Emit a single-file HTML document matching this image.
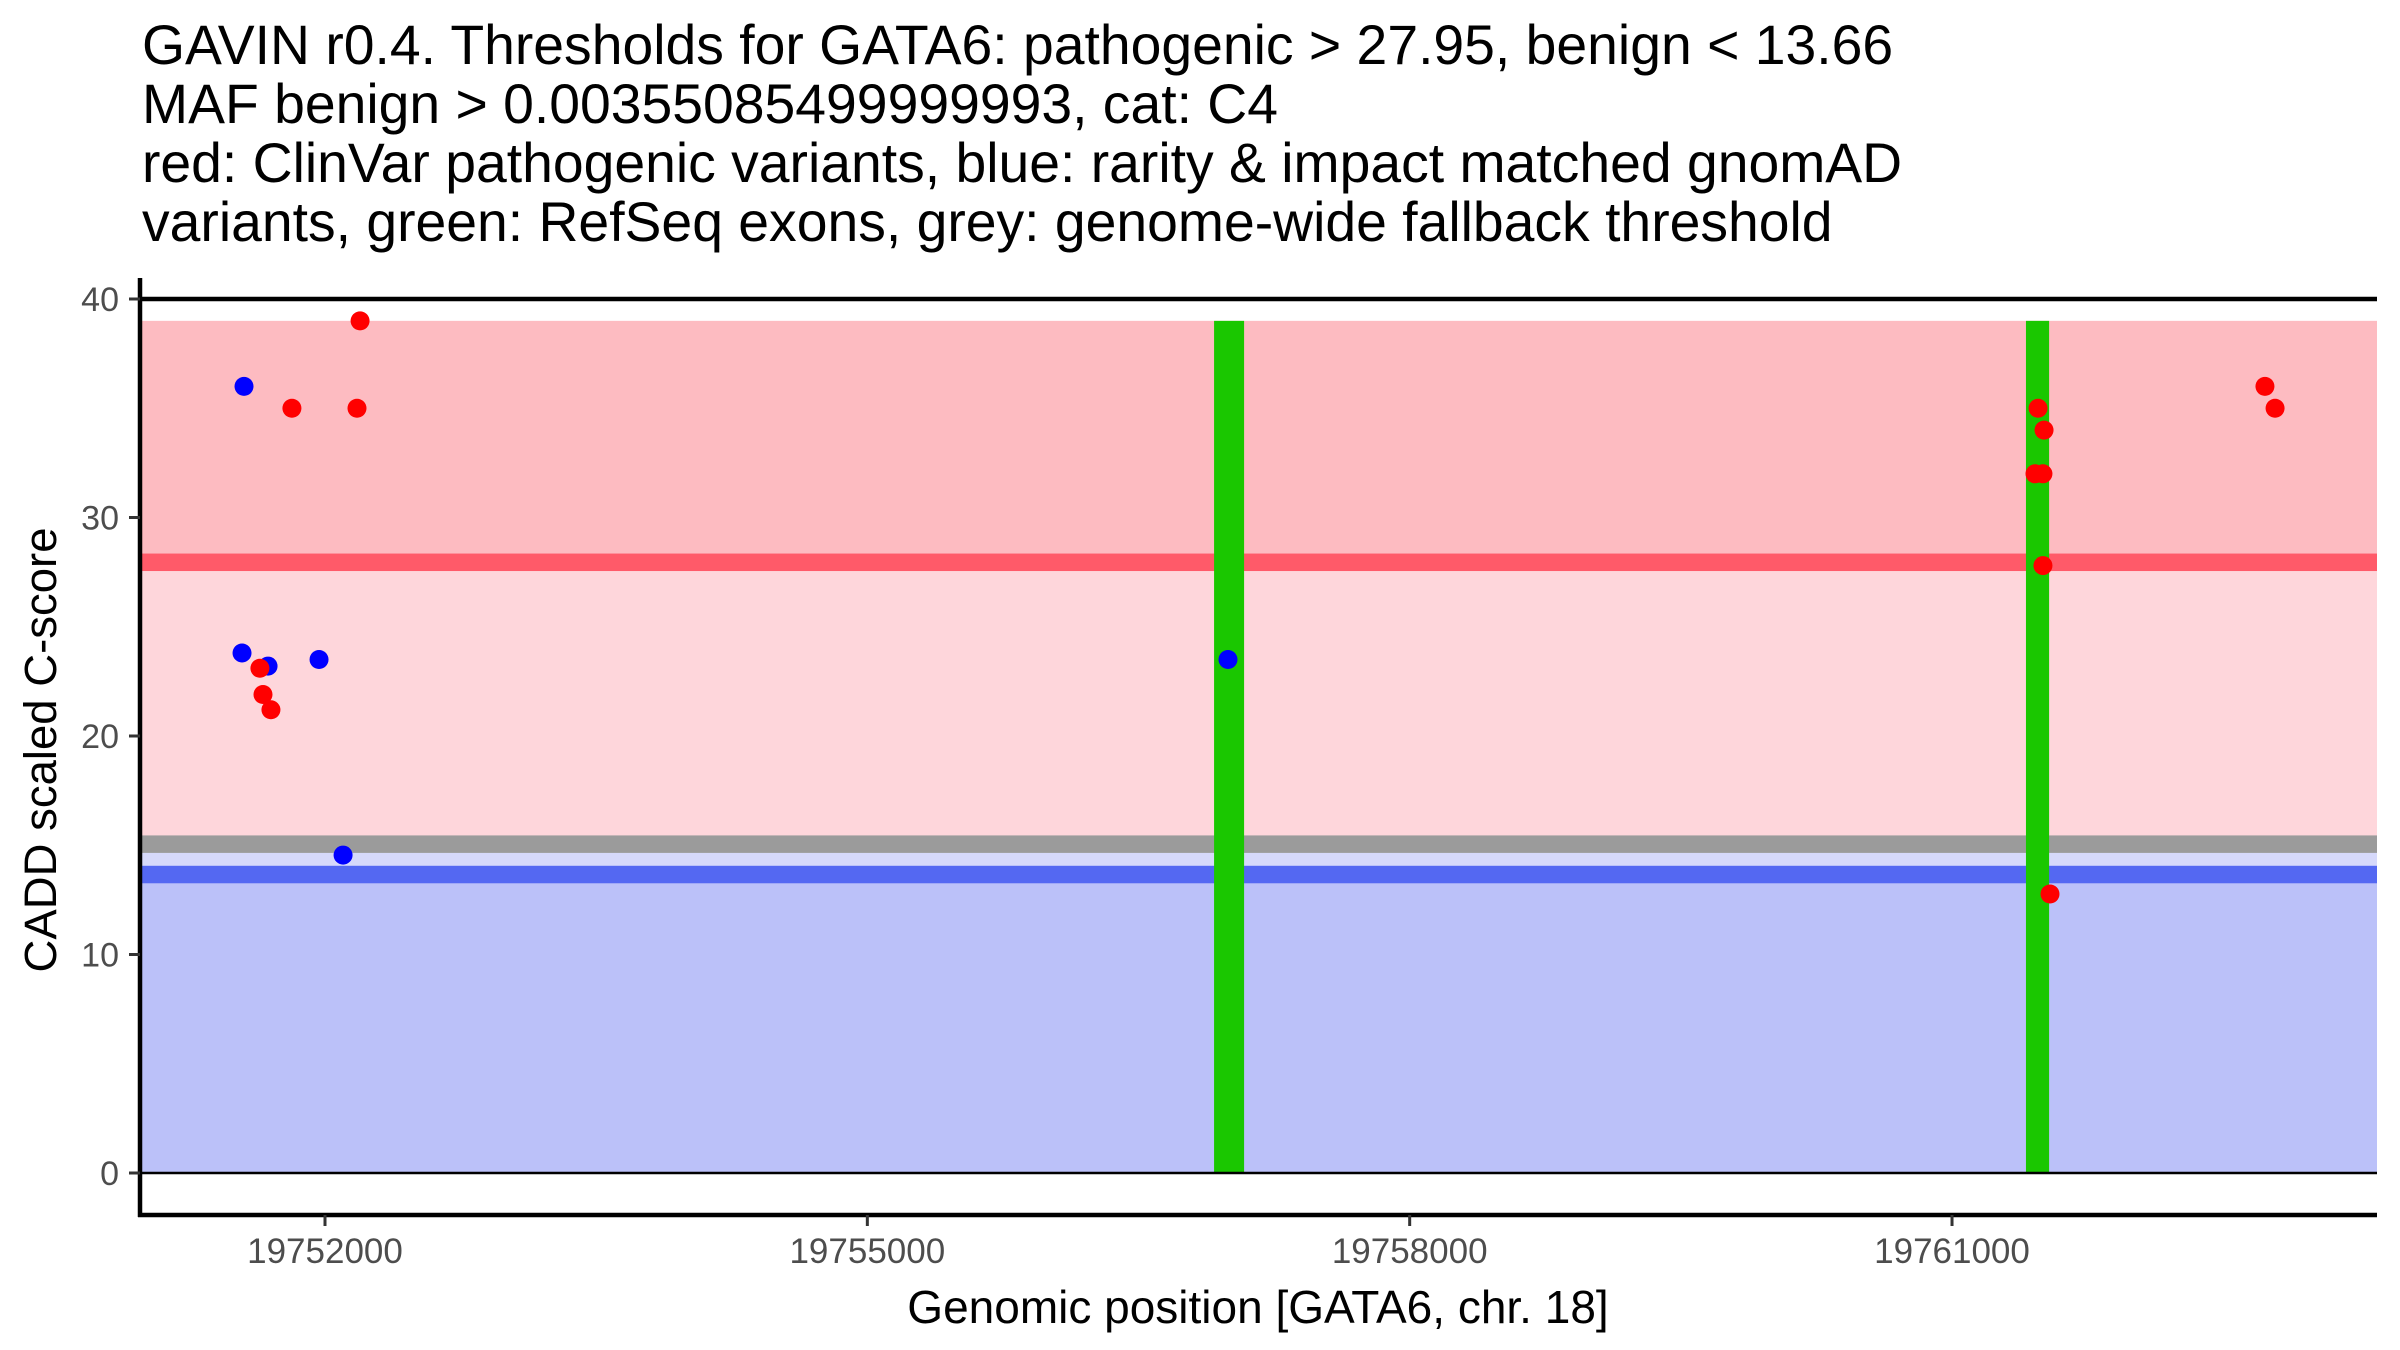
<!DOCTYPE html>
<html><head><meta charset="utf-8">
<style>
html,body{margin:0;padding:0;background:#fff;}
svg{display:block;font-family:"Liberation Sans",Arial,sans-serif;}
</style></head>
<body>
<svg id="chart" width="2400" height="1350" viewBox="0 0 2400 1350" xmlns="http://www.w3.org/2000/svg">
  <g font-size="55.3" fill="#000">
    <text x="142" y="64">GAVIN r0.4. Thresholds for GATA6: pathogenic &gt; 27.95, benign &lt; 13.66</text>
    <text x="142" y="123">MAF benign &gt; 0.00355085499999993, cat: C4</text>
    <text x="142" y="182">red: ClinVar pathogenic variants, blue: rarity &amp; impact matched gnomAD</text>
    <text x="142" y="241">variants, green: RefSeq exons, grey: genome-wide fallback threshold</text>
  </g>
  <g id="bands"></g>
  <g id="exons"></g>
  <g id="refs"></g>
  <g id="points"></g>
  <g id="axes"></g>
  <text x="1258" y="1323" font-size="46" text-anchor="middle" fill="#000">Genomic position [GATA6, chr. 18]</text>
  <text transform="translate(56,750) rotate(-90)" font-size="45.5" text-anchor="middle" fill="#000">CADD scaled C-score</text>
</svg>
<script>
const xTicks = [19752000, 19755000, 19758000, 19761000];
const yTicks = [0, 10, 20, 30, 40];
const pathoThreshold = 27.95;
const benignThreshold = 13.66;
const fallbackThreshold = 15.05;
const maxScore = 39;
const exonStarts = [19756918, 19761409];
const exonEnds = [19757084, 19761537];
const clinvarPos = [19752194, 19751817, 19752177, 19751640, 19751657, 19751701, 19761476, 19761509, 19761459, 19761503, 19761503, 19761542, 19762731, 19762787];
const clinvarScore = [39, 35, 35, 23.1, 21.9, 21.2, 35, 34, 32, 32, 27.8, 12.77, 36, 35];
const gnomadPos = [19751552, 19751541, 19751685, 19751967, 19752100, 19756995];
const gnomadScore = [36, 23.8, 23.2, 23.5, 14.55, 23.5];

const NS = "http://www.w3.org/2000/svg";
const plotL = 142, plotR = 2377;
function xs(v){ return 325 + (v - 19752000) * 0.18078; }
function ys(v){ return 1173 - v * 21.85; }
function mk(tag, attrs, parent){
  const e = document.createElementNS(NS, tag);
  for (const k in attrs) e.setAttribute(k, attrs[k]);
  parent.appendChild(e);
  return e;
}
const bands = document.getElementById('bands');
const half = 0.4;
let r;
r = mk('rect', {x:plotL, width:plotR-plotL, y:ys(maxScore), height:ys(pathoThreshold)-ys(maxScore), fill:'#FDBBC1'}, bands);


r = mk('rect', {x:plotL, width:plotR-plotL, y:ys(pathoThreshold), height:ys(fallbackThreshold)-ys(pathoThreshold), fill:'#FED6DB'}, bands);


r = mk('rect', {x:plotL, width:plotR-plotL, y:ys(fallbackThreshold), height:ys(benignThreshold)-ys(fallbackThreshold), fill:'#D6D9FB'}, bands);


r = mk('rect', {x:plotL, width:plotR-plotL, y:ys(benignThreshold), height:ys(0)-ys(benignThreshold), fill:'#BBC1F9'}, bands);



const refs = document.getElementById('refs');
r = mk('rect', {x:plotL, width:plotR-plotL, y:ys(pathoThreshold+half), height:ys(pathoThreshold-half)-ys(pathoThreshold+half), fill:'#FF5A69'}, bands);


r = mk('rect', {x:plotL, width:plotR-plotL, y:ys(fallbackThreshold+half), height:ys(fallbackThreshold-half)-ys(fallbackThreshold+half), fill:'#9B9B9B'}, bands);


r = mk('rect', {x:plotL, width:plotR-plotL, y:ys(benignThreshold+half), height:ys(benignThreshold-half)-ys(benignThreshold+half), fill:'#5468F2'}, bands);



const exons = document.getElementById('exons');
exonStarts.forEach((s, i) => {
  const e = mk('rect', {x:xs(s), width:xs(exonEnds[i])-xs(s), y:ys(maxScore), height:ys(0)-ys(maxScore), fill:'#1AC700'}, exons);
  
  
});

let l = mk('line', {x1:plotL, x2:plotR, y1:ys(0), y2:ys(0), stroke:'#000', 'stroke-width':2.5}, refs);


l = mk('line', {x1:plotL, x2:plotR, y1:ys(40), y2:ys(40), stroke:'#000', 'stroke-width':4.5}, refs);



const pts = document.getElementById('points');
gnomadPos.forEach((p, i) => {
  const c = mk('circle', {cx:xs(p), cy:ys(gnomadScore[i]), r:9.5, fill:'#0000FF'}, pts);
  
  
});
clinvarPos.forEach((p, i) => {
  const c = mk('circle', {cx:xs(p), cy:ys(clinvarScore[i]), r:9.5, fill:'#FF0000'}, pts);
  
  
});

const axes = document.getElementById('axes');
l = mk('line', {x1:140, x2:140, y1:278, y2:1217, stroke:'#000', 'stroke-width':4.5}, axes);


l = mk('line', {x1:138, x2:plotR, y1:1215, y2:1215, stroke:'#000', 'stroke-width':4.5}, axes);


yTicks.forEach(v => {
  const t = mk('line', {x1:129, x2:140, y1:ys(v), y2:ys(v), stroke:'#333', 'stroke-width':3}, axes);
  
  
  const tx = mk('text', {x:119, y:ys(v)+12, 'font-size':34, 'text-anchor':'end', fill:'#4D4D4D'}, axes);
  
  
  tx.textContent = v;
});
xTicks.forEach(v => {
  const t = mk('line', {x1:xs(v), x2:xs(v), y1:1215, y2:1226, stroke:'#333', 'stroke-width':3}, axes);
  
  
  const tx = mk('text', {x:xs(v), y:1263, 'font-size':35, 'text-anchor':'middle', fill:'#4D4D4D'}, axes);
  
  
  tx.textContent = v;
});
</script>
</body></html>
